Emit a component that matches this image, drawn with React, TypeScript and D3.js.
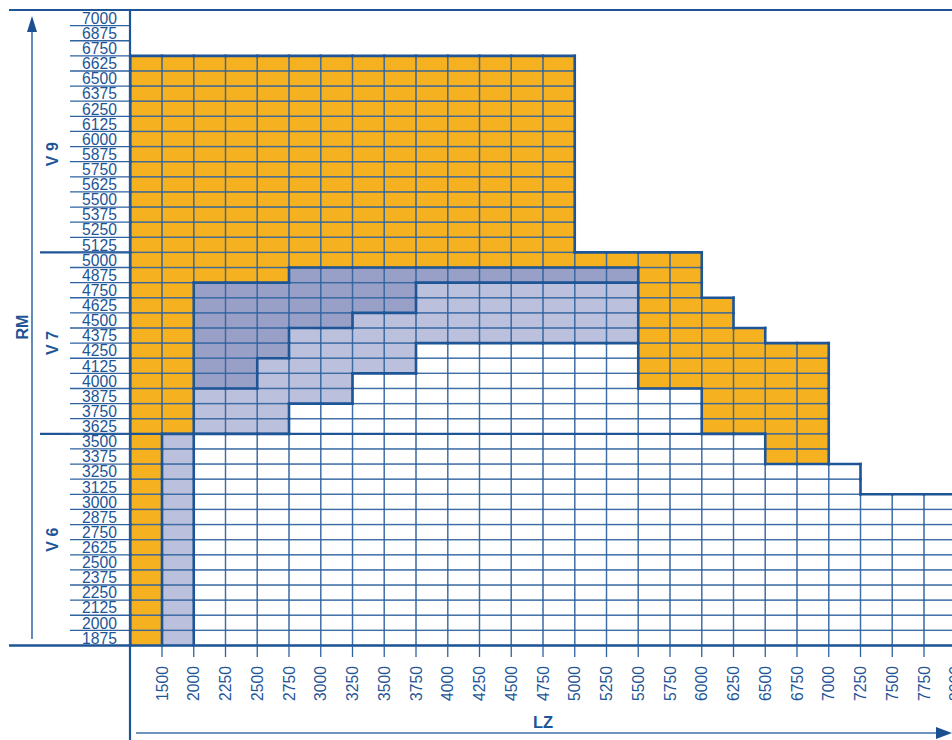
import React from "react";
import * as d3 from "d3";

const LZ = [1500, 2000, 2250, 2500, 2750, 3000, 3250, 3500, 3750, 4000, 4250, 4500, 4750, 5000, 5250, 5500, 5750, 6000, 6250, 6500, 6750, 7000, 7250, 7500, 7750, 8000];
const RM = [7000, 6875, 6750, 6625, 6500, 6375, 6250, 6125, 6000, 5875, 5750, 5625, 5500, 5375, 5250, 5125, 5000, 4875, 4750, 4625, 4500, 4375, 4250, 4125, 4000, 3875, 3750, 3625, 3500, 3375, 3250, 3125, 3000, 2875, 2750, 2625, 2500, 2375, 2250, 2125, 2000, 1875];

// grid top (RM) for each LZ column; grid runs down to 1875
const GRID_TOP: [number, number][] = [
  [1500, 6625], [2000, 6625], [2250, 6625], [2500, 6625], [2750, 6625], [3000, 6625], [3250, 6625],
  [3500, 6625], [3750, 6625], [4000, 6625], [4250, 6625], [4500, 6625], [4750, 6625], [5000, 6625],
  [5250, 5000], [5500, 5000], [5750, 5000], [6000, 5000], [6250, 4625], [6500, 4375], [6750, 4250],
  [7000, 4250], [7250, 3250], [7500, 3000], [7750, 3000], [8000, 3000],
];

// [LZ, top RM, bottom RM]
const ORANGE: [number, number, number][] = [
  [1500, 6625, 1875], [2000, 6625, 3625], [2250, 6625, 4875], [2500, 6625, 4875], [2750, 6625, 4875],
  [3000, 6625, 5000], [3250, 6625, 5000], [3500, 6625, 5000], [3750, 6625, 5000], [4000, 6625, 5000],
  [4250, 6625, 5000], [4500, 6625, 5000], [4750, 6625, 5000], [5000, 6625, 5000], [5250, 5000, 5000],
  [5500, 5000, 5000], [5750, 5000, 4000], [6000, 5000, 4000], [6250, 4625, 3625], [6500, 4375, 3625],
  [6750, 4250, 3375], [7000, 4250, 3375],
];
const DARK: [number, number, number][] = [
  [2250, 4750, 4000], [2500, 4750, 4000], [2750, 4750, 4250], [3000, 4875, 4500], [3250, 4875, 4500],
  [3500, 4875, 4625], [3750, 4875, 4625], [4000, 4875, 4875], [4250, 4875, 4875], [4500, 4875, 4875],
  [4750, 4875, 4875], [5000, 4875, 4875], [5250, 4875, 4875], [5500, 4875, 4875],
];
const LIGHT: [number, number, number][] = [
  [2000, 3500, 1875], [2250, 3875, 3625], [2500, 3875, 3625], [2750, 4125, 3625], [3000, 4375, 3875],
  [3250, 4375, 3875], [3500, 4500, 4125], [3750, 4500, 4125], [4000, 4750, 4375], [4250, 4750, 4375],
  [4500, 4750, 4375], [4750, 4750, 4375], [5000, 4750, 4375], [5250, 4750, 4375], [5500, 4750, 4375],
];

const GROUPS: [string, number, number][] = [["V 9", 6625, 5125], ["V 7", 5000, 3625], ["V 6", 3500, 1875]];

const COLORS: Record<string, string> = { W: "#ffffff", O: "#F5B120", D: "#98A0C7", L: "#BBC0DC" };
const BLUE = "#1E5596";
const FONT = "'Liberation Sans', Arial, sans-serif";

export default function App() {
  const W = 952, H = 740;
  const x = d3.scaleBand<number>().domain(LZ).range([130.25, 130.25 + 26 * 31.75]).padding(0);
  const y = d3.scaleBand<number>().domain(RM).range([10.5, 645.5]).padding(0);
  const cw = x.bandwidth(), rh = y.bandwidth();

  const cls = new Map<string, string>();
  const key = (c: number, r: number) => `${c},${r}`;
  GRID_TOP.forEach(([lz, top]) => {
    RM.filter((v) => v <= top).forEach((v) => cls.set(key(lz, v), "W"));
  });
  const apply = (zone: [number, number, number][], c: string) =>
    zone.forEach(([lz, t, b]) => RM.filter((v) => v <= t && v >= b).forEach((v) => cls.set(key(lz, v), c)));
  apply(ORANGE, "O");
  apply(DARK, "D");
  apply(LIGHT, "L");

  const cells: { lz: number; rm: number; c: string }[] = [];
  cls.forEach((c, k) => {
    const [lz, rm] = k.split(",").map(Number);
    cells.push({ lz, rm, c });
  });

  const thick: [number, number, number, number][] = [];
  LZ.forEach((lz, ci) => {
    RM.forEach((rm, ri) => {
      const a = cls.get(key(lz, rm));
      const x0 = x(lz)!, y0 = y(rm)!;
      const right = ci < LZ.length - 1 ? cls.get(key(LZ[ci + 1], rm)) : a;
      if (a !== right && (a || right)) thick.push([x0 + cw, y0, x0 + cw, y0 + rh]);
      const below = ri < RM.length - 1 ? cls.get(key(lz, RM[ri + 1])) : undefined;
      if (a !== below && (a || below) && ri < RM.length - 1) thick.push([x0, y0 + rh, x0 + cw, y0 + rh]);
      if (ci === 0 && a) thick.push([x0, y0, x0, y0 + rh]);
      if (ri === 0 && a) thick.push([x0, y0, x0 + cw, y0]);
    });
  });

  const yBottom = y(1875)! + rh;
  const yV7 = y(5000)!;
  const yV6 = y(3500)!;

  return (
    <svg width={W} height={H} style={{ position: "absolute", left: 0, top: 0, display: "block", background: "#fff" }}>
      {cells.map((d, i) => (
        <rect key={i} x={x(d.lz)} y={y(d.rm)} width={cw} height={rh} fill={COLORS[d.c]} />
      ))}
      {cells.map((d, i) => (
        <rect key={"g" + i} x={x(d.lz)} y={y(d.rm)} width={cw} height={rh} fill="none"
          stroke="#2F62A0" strokeOpacity={0.72} strokeWidth={1.3} />
      ))}
      {thick.map((s, i) => (
        <line key={"t" + i} x1={s[0]} y1={s[1]} x2={s[2]} y2={s[3]} stroke={BLUE} strokeWidth={2.6} strokeLinecap="square" />
      ))}
      <line x1={40} x2={x(6500)! + cw} y1={yV6} y2={yV6} stroke={BLUE} strokeWidth={2.4} />
      <line x1={40} x2={130} y1={yV7} y2={yV7} stroke={BLUE} strokeWidth={2.4} />

      {RM.slice(0, RM.length - 1).map((v) => (
        <line key={"rl" + v} x1={70} x2={130} y1={y(v)! + rh} y2={y(v)! + rh} stroke="#2F62A0" strokeWidth={1.3} />
      ))}
      {RM.map((v) => (
        <text key={"rt" + v} x={117} y={y(v)! + rh - 1.8} textAnchor="end" fontFamily={FONT} fontSize={15.7} fill={BLUE}>
          {v}
        </text>
      ))}

      <line x1={9} x2={W} y1={10} y2={10} stroke={BLUE} strokeWidth={2.2} />
      <line x1={9} x2={W} y1={yBottom} y2={yBottom} stroke={BLUE} strokeWidth={2.6} />
      <line x1={130} x2={130} y1={10} y2={H} stroke={BLUE} strokeWidth={2.2} />

      {LZ.map((v) => {
        const xx = x(v)! + cw;
        return (
          <g key={"xt" + v}>
            <line x1={xx} x2={xx} y1={yBottom} y2={657} stroke="#2F62A0" strokeWidth={1.3} />
            <text transform={`translate(${xx},666) rotate(-90)`} textAnchor="end" dy="0.36em" fontFamily={FONT} fontSize={15.7} fill={BLUE}>
              {v}
            </text>
          </g>
        );
      })}

      <line x1={32} x2={32} y1={28} y2={639} stroke="#3C6CA8" strokeWidth={1.6} />
      <path d="M32,16 L27,32 L37,32 Z" fill="#1A4F92" />
      <text transform="translate(22.5,327) rotate(-90)" textAnchor="middle" dy="0.36em" fontFamily={FONT} fontWeight="bold" fontSize={16} fill={BLUE}>
        RM
      </text>
      {GROUPS.map(([lab, t, b]) => (
        <text key={lab} transform={`translate(52.5,${(y(t)! + y(b)! + rh) / 2}) rotate(-90)`} textAnchor="middle" dy="0.36em"
          fontFamily={FONT} fontWeight="bold" fontSize={16} fill={BLUE}>
          {lab}
        </text>
      ))}

      <line x1={136} x2={940} y1={733} y2={733} stroke="#6F93C0" strokeWidth={2} />
      <path d="M952,733 L936,727 L936,739 Z" fill="#1A4F92" />
      <text x={543} y={728} textAnchor="middle" fontFamily={FONT} fontWeight="bold" fontSize={16.5} fill={BLUE}>
        LZ
      </text>
    </svg>
  );
}
